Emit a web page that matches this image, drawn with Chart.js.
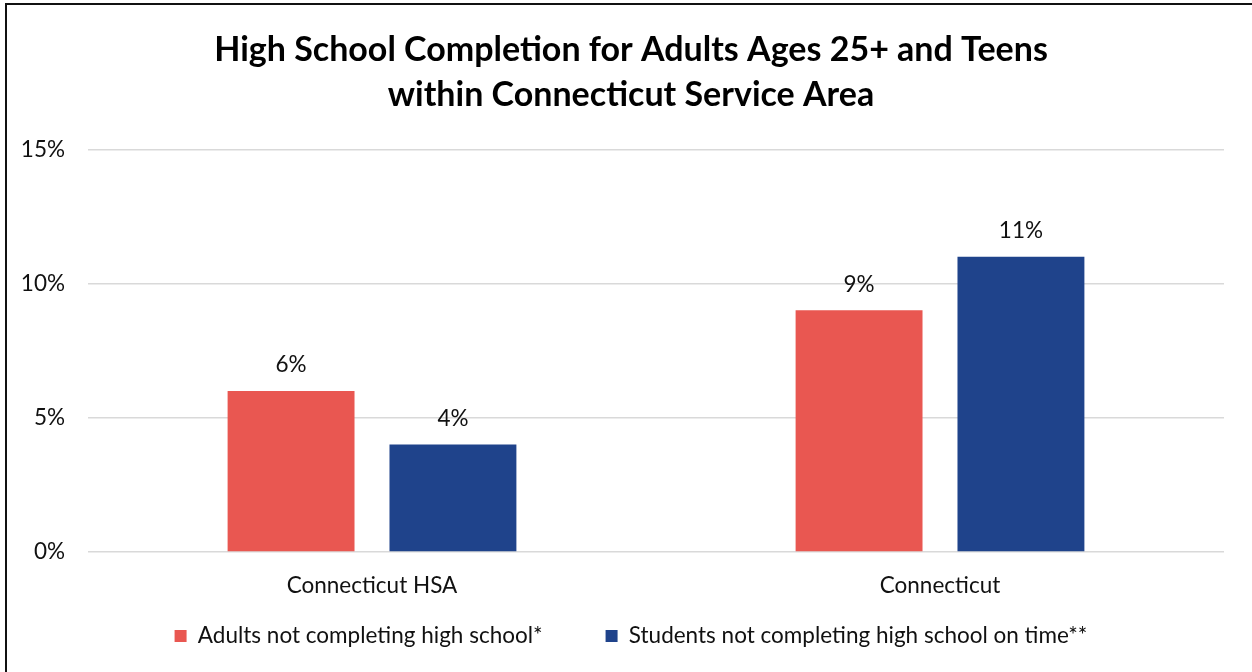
<!DOCTYPE html>
<html>
<head>
<meta charset="utf-8">
<title>High School Completion</title>
<script src="https://cdn.jsdelivr.net/npm/chart.js@4.4.1/dist/chart.umd.min.js"></script>
<style>
  html, body { margin: 0; padding: 0; background: #fff; }
  #wrap { position: relative; width: 1252px; height: 672px; overflow: hidden; }
  #frame {
    position: absolute; left: 5px; top: 3px; width: 1400px; height: 800px;
    border-left: 2px solid #111; border-top: 2px solid #111; pointer-events: none;
  }
  canvas { display: block; }
</style>
</head>
<body>
<div id="wrap">
  <canvas id="completionChart" width="1252" height="672"></canvas>
  <div id="frame"></div>
</div>
<script>
const regions = ['Connecticut HSA', 'Connecticut'];
const adultsNotCompleting = [0.06, 0.09];
const studentsNotOnTime = [0.04, 0.11];
const yTicks = [0, 0.05, 0.10, 0.15];
const titleLines = ['High School Completion for Adults Ages 25+ and Teens', 'within Connecticut Service Area'];
const seriesNames = ['Adults not completing high school*', 'Students not completing high school on time**'];

const RED = 'rgb(233, 87, 81)';
const BLUE = 'rgb(31, 67, 139)';
const TEXT = '#111';
const FONT_SIZE = 22.5;

Chart.defaults.font.family = 'Lato, "Noto Sans", sans-serif';

function pct(v) {
    return Math.round(v * 100) + '%';
}

// labels are allowed to spill out of their (squeezed) axis boxes
function noLabelClip(s) {
    s._computeLabelArea = () => undefined;
}

// percentage labels sitting above each bar
const valueLabels = {
    id: 'valueLabels',
    afterDatasetsDraw(chart) {
        const ctx = chart.ctx;
        ctx.save();
        ctx.font = FONT_SIZE + 'px ' + Chart.defaults.font.family;
        ctx.fillStyle = TEXT;
        ctx.textAlign = 'center';
        ctx.textBaseline = 'middle';
        chart.data.datasets.forEach((ds, i) => {
            chart.getDatasetMeta(i).data.forEach((bar, j) => {
                ctx.fillText(pct(ds.data[j]), bar.x, bar.y - 26);
            });
        });
        ctx.restore();
    }
};

const completionChart = document.getElementById('completionChart');
new Chart(completionChart, {
    type: 'bar',
    data: {
        labels: regions,
        datasets: [{
            label: seriesNames[0],
            data: adultsNotCompleting,
            backgroundColor: RED
        }, {
            label: seriesNames[1],
            data: studentsNotOnTime,
            backgroundColor: BLUE
        }]
    },
    options: {
        responsive: false,
        animation: false,
        categoryPercentage: 0.57,
        barPercentage: 0.784,
        layout: {
            padding: { left: 38, right: 28, top: 0, bottom: 14.75 }
        },
        plugins: {
            title: {
                display: true,
                text: titleLines,
                color: '#000',
                font: { size: 34, weight: 'bold', lineHeight: 1.32 },
                padding: { top: 28, bottom: 31.5 }
            },
            legend: {
                position: 'bottom',
                labels: {
                    boxWidth: 12,
                    boxHeight: 12,
                    padding: 63,
                    color: TEXT,
                    font: { size: FONT_SIZE }
                }
            },
            tooltip: { enabled: false }
        },
        scales: {
            x: {
                grid: { display: false },
                border: { display: false },
                ticks: { color: TEXT, font: { size: FONT_SIZE }, padding: 12.5 },
                afterFit: s => { s.height = 9.75; },
                afterUpdate: noLabelClip
            },
            y: {
                min: 0,
                max: 0.15,
                afterBuildTicks: s => { s.ticks = yTicks.map(v => ({ value: v })); },
                afterFit: s => { s.width = 50; },
                afterUpdate: noLabelClip,
                grid: { color: '#d9d9d9', lineWidth: 1.5, drawTicks: false },
                border: { display: false },
                ticks: { color: TEXT, font: { size: FONT_SIZE }, padding: 23, callback: v => pct(v) }
            }
        }
    },
    plugins: [valueLabels]
});
</script>
</body>
</html>
